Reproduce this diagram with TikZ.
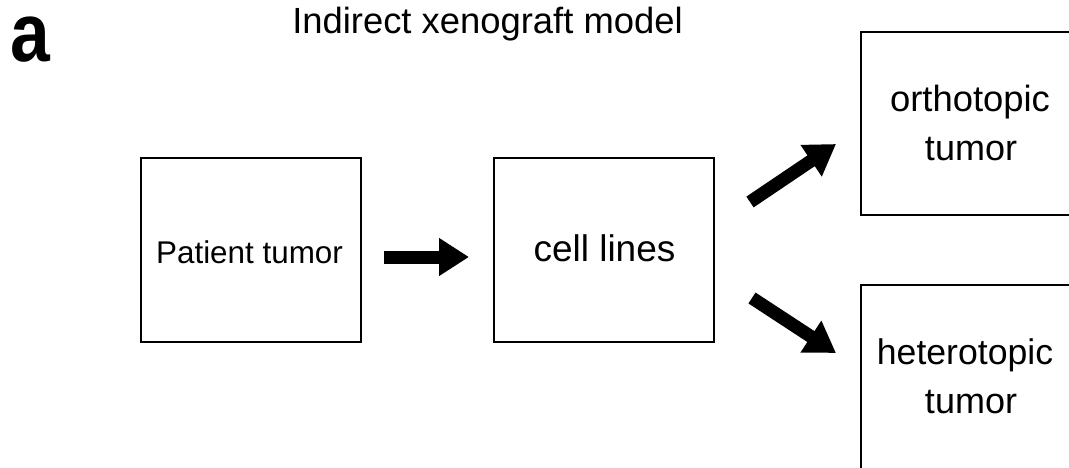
\documentclass[tikz,border=0pt]{standalone}
\usepackage{fontspec}
\setmainfont{Liberation Sans}
\usetikzlibrary{arrows.meta}
\tikzset{
  box/.style={draw=black, line width=2pt, minimum width=220pt, minimum height=184pt, inner sep=0pt, outer sep=0pt},
  bigarrow/.style={line width=13pt, -{Triangle[length=30pt,width=36pt]}},
  lbl/.style={anchor=base, inner sep=0pt}
}
\begin{document}
\begin{tikzpicture}[x=1pt,y=-1pt]
\useasboundingbox (0,0) rectangle (1069,468);
\clip (0,0) rectangle (1069,468);
\fill[white] (0,0) rectangle (1069,468);
% panel letter and title
\node[anchor=base west, inner sep=0pt, font=\fontsize{83}{90}\selectfont\bfseries] (panel) at (10,62) {\scalebox{0.86}[1]{a}};
\node[lbl, font=\fontsize{36.4}{40}\selectfont] (title) at (487.5,33.5) {Indirect xenograft model};
% boxes
\node[box] (b1) at (251,250) {};
\node[box] (b2) at (604,250) {};
\node[box, minimum height=183pt] (b3) at (971,123.5) {};
\node[box] (b4) at (971,377) {};
% labels
\node[lbl, font=\fontsize{31.4}{36}\selectfont] (t1) at (249.5,263) {Patient tumor};
\node[lbl, font=\fontsize{37}{42}\selectfont] (t2) at (604.5,261.7) {cell lines};
\node[lbl, font=\fontsize{36.4}{42}\selectfont] (t3a) at (970,111.7) {orthotopic};
\node[lbl, font=\fontsize{36}{42}\selectfont] (t3b) at (971,160.5) {tumor};
\node[lbl, font=\fontsize{35.6}{42}\selectfont] (t4a) at (965,364) {heterotopic};
\node[lbl, font=\fontsize{36}{42}\selectfont] (t4b) at (971,413) {tumor};
% arrows
\draw[bigarrow] ([shift={(23,7)}]b1.east) -- ([shift={(-25,7)}]b2.west);
\draw[bigarrow] ([shift={(36,-48)}]b2.east) -- ([shift={(-25,20.5)}]b3.west);
\draw[bigarrow] ([shift={(38,48)}]b2.east) -- ([shift={(-25,-24)}]b4.west);
\end{tikzpicture}
\end{document}
